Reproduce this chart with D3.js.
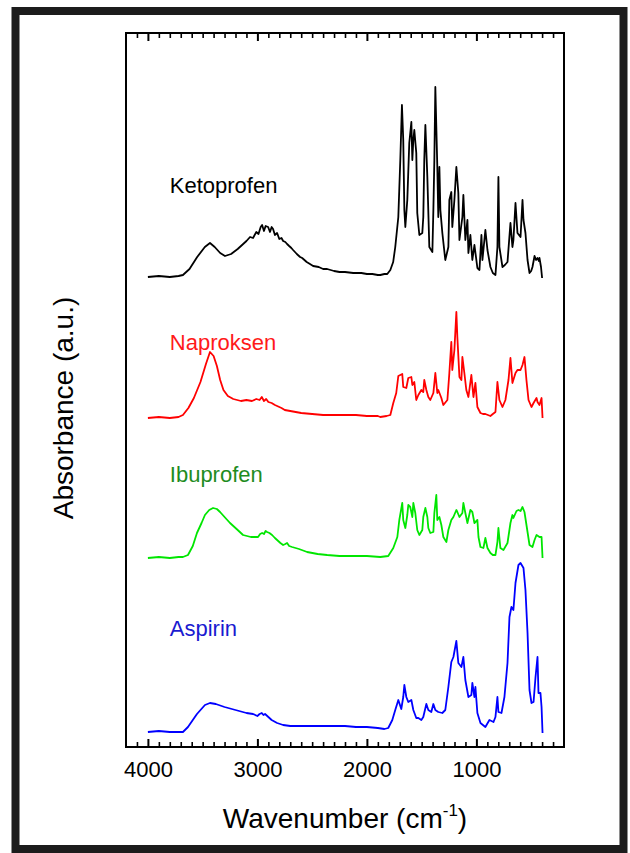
<!DOCTYPE html>
<html>
<head>
<meta charset="utf-8">
<script src="https://cdn.jsdelivr.net/npm/d3@7/dist/d3.min.js"></script>
<style>
  html, body { margin: 0; padding: 0; background: #fff; }
  svg { display: block; font-family: "Liberation Sans", Arial, sans-serif; }
</style>
</head>
<body>
<svg id="chart" width="630" height="853"></svg>
<script>
// FTIR absorbance spectra: [wavenumber (cm-1), absorbance above own baseline (a.u.)]
const ketoprofen = [
  [4000,0.00],[3900,0.01],[3800,0.00],[3720,0.01],[3680,0.02],[3620,0.08],[3550,0.20],[3480,0.30],[3433,0.34],
  [3390,0.30],[3340,0.24],[3296,0.21],[3240,0.23],[3180,0.28],[3130,0.33],[3100,0.36],[3067,0.40],[3040,0.39],
  [3010,0.45],[2990,0.43],[2970,0.50],[2957,0.52],[2940,0.46],[2925,0.51],[2902,0.50],[2885,0.45],[2870,0.50],
  [2857,0.48],[2840,0.42],[2820,0.44],[2800,0.38],[2780,0.39],[2765,0.36],[2745,0.35],[2729,0.33],[2710,0.31],
  [2690,0.29],[2674,0.27],[2640,0.23],[2610,0.20],[2591,0.19],[2550,0.15],[2520,0.13],[2491,0.11],[2440,0.10],
  [2400,0.08],[2363,0.08],[2300,0.06],[2250,0.05],[2200,0.05],[2125,0.04],[2050,0.04],[2000,0.03],[1950,0.03],
  [1900,0.02],[1878,0.02],[1840,0.03],[1814,0.03],[1786,0.07],[1760,0.15],[1741,0.30],[1713,0.60],[1695,1.17],
  [1680,1.72],[1668,1.37],[1658,0.67],[1649,0.50],[1631,0.77],[1613,1.34],[1594,1.55],[1585,1.17],[1576,1.37],
  [1567,1.47],[1549,1.24],[1540,0.64],[1521,0.42],[1494,0.44],[1485,0.60],[1476,1.17],[1466,1.52],[1448,1.00],
  [1430,0.30],[1402,0.25],[1393,0.67],[1384,1.17],[1375,1.90],[1357,1.10],[1348,0.60],[1338,1.10],[1329,0.67],
  [1311,0.44],[1284,0.17],[1256,0.30],[1247,0.77],[1229,0.85],[1220,0.50],[1201,0.77],[1183,1.10],[1165,0.84],
  [1155,0.37],[1128,0.60],[1119,0.82],[1101,0.37],[1082,0.57],[1073,0.24],[1055,0.42],[1037,0.17],[1018,0.32],
  [991,0.09],[972,0.07],[954,0.42],[945,0.17],[918,0.47],[899,0.27],[872,0.10],[850,0.04],[826,0.02],[808,0.30],
  [799,1.00],[790,0.30],[762,0.10],[740,0.12],[716,0.15],[689,0.54],[671,0.30],[662,0.37],[643,0.74],[625,0.44],
  [597,0.40],[579,0.77],[570,0.57],[552,0.44],[533,0.17],[515,0.04],[500,0.06],[488,0.10],[469,0.21],[455,0.17],
  [442,0.19],[430,0.16],[424,0.19],[410,0.10],[400,-0.01]
];

const naproksen = [
  [4000,0.00],[3900,0.01],[3800,0.00],[3720,0.01],[3680,0.03],[3630,0.10],[3580,0.20],[3520,0.36],[3470,0.54],
  [3433,0.66],[3400,0.62],[3370,0.52],[3340,0.38],[3310,0.28],[3270,0.22],[3220,0.19],[3150,0.17],[3100,0.18],
  [3050,0.17],[3010,0.19],[2980,0.18],[2960,0.21],[2940,0.17],[2920,0.19],[2900,0.16],[2870,0.15],[2840,0.13],
  [2820,0.12],[2780,0.10],[2750,0.08],[2700,0.07],[2650,0.06],[2600,0.05],[2500,0.04],[2400,0.03],[2300,0.03],
  [2200,0.03],[2100,0.03],[2000,0.02],[1900,0.02],[1878,0.01],[1820,0.02],[1786,0.03],[1759,0.15],[1732,0.25],
  [1713,0.42],[1695,0.43],[1677,0.44],[1668,0.31],[1640,0.30],[1622,0.40],[1594,0.41],[1585,0.33],[1567,0.36],
  [1549,0.18],[1530,0.23],[1503,0.28],[1485,0.26],[1476,0.38],[1457,0.28],[1439,0.21],[1421,0.18],[1393,0.25],
  [1375,0.45],[1357,0.25],[1348,0.28],[1320,0.20],[1302,0.13],[1265,0.18],[1247,0.45],[1229,0.76],[1220,0.48],
  [1201,0.68],[1183,1.06],[1174,0.81],[1155,0.41],[1137,0.38],[1128,0.61],[1110,0.45],[1092,0.28],[1073,0.21],
  [1046,0.43],[1027,0.21],[1009,0.35],[991,0.11],[963,0.05],[940,0.04],[918,0.04],[895,0.03],[872,0.02],
  [850,0.04],[826,0.06],[808,0.36],[790,0.18],[762,0.11],[735,0.18],[707,0.38],[689,0.60],[671,0.35],[643,0.45],
  [625,0.48],[597,0.48],[579,0.53],[561,0.61],[543,0.38],[524,0.18],[497,0.11],[478,0.15],[451,0.20],[442,0.16],
  [424,0.13],[405,0.20],[396,0.00]
];

const ibuprofen = [
  [4000,0.00],[3900,0.01],[3800,0.00],[3720,0.01],[3680,0.01],[3634,0.03],[3590,0.12],[3552,0.25],[3510,0.35],
  [3479,0.43],[3440,0.48],[3405,0.50],[3370,0.49],[3341,0.46],[3300,0.41],[3250,0.35],[3190,0.29],[3131,0.23],
  [3060,0.21],[3020,0.21],[2994,0.21],[2975,0.24],[2957,0.25],[2940,0.24],[2925,0.27],[2912,0.26],[2890,0.25],
  [2866,0.23],[2840,0.20],[2820,0.18],[2790,0.15],[2765,0.13],[2745,0.14],[2729,0.15],[2710,0.12],[2683,0.11],
  [2620,0.09],[2546,0.06],[2450,0.04],[2363,0.03],[2250,0.02],[2125,0.02],[2000,0.02],[1878,0.01],[1805,0.02],
  [1759,0.10],[1722,0.21],[1704,0.38],[1677,0.55],[1668,0.38],[1649,0.30],[1631,0.43],[1622,0.53],[1604,0.51],
  [1585,0.41],[1576,0.55],[1558,0.45],[1540,0.28],[1521,0.23],[1494,0.28],[1485,0.41],[1466,0.50],[1448,0.41],
  [1439,0.30],[1421,0.25],[1393,0.26],[1384,0.45],[1366,0.63],[1357,0.38],[1338,0.41],[1320,0.33],[1302,0.21],
  [1274,0.16],[1256,0.28],[1229,0.38],[1210,0.41],[1183,0.48],[1174,0.46],[1155,0.41],[1128,0.45],[1119,0.55],
  [1101,0.45],[1082,0.35],[1055,0.48],[1037,0.46],[1018,0.35],[991,0.38],[981,0.21],[963,0.11],[936,0.10],
  [918,0.20],[899,0.10],[872,0.05],[850,0.03],[826,0.03],[808,0.16],[799,0.30],[781,0.10],[753,0.08],[716,0.15],
  [689,0.35],[671,0.43],[662,0.40],[634,0.47],[616,0.48],[597,0.47],[579,0.51],[561,0.46],[533,0.26],[515,0.13],
  [488,0.11],[469,0.18],[451,0.23],[424,0.21],[405,0.21],[396,0.00]
];

const aspirin = [
  [4000,0.00],[3900,0.01],[3800,0.00],[3720,0.00],[3680,0.00],[3634,0.05],[3590,0.12],[3552,0.18],[3479,0.27],
  [3433,0.29],[3380,0.28],[3300,0.25],[3200,0.22],[3100,0.19],[3040,0.18],[3000,0.16],[2980,0.18],[2960,0.19],
  [2945,0.17],[2930,0.18],[2900,0.15],[2870,0.12],[2820,0.09],[2765,0.07],[2700,0.06],[2600,0.06],[2500,0.06],
  [2400,0.06],[2300,0.06],[2200,0.06],[2100,0.05],[2000,0.05],[1900,0.04],[1840,0.03],[1805,0.04],[1768,0.12],
  [1741,0.22],[1713,0.32],[1686,0.23],[1668,0.35],[1658,0.47],[1640,0.35],[1622,0.30],[1594,0.32],[1576,0.22],
  [1549,0.14],[1530,0.14],[1503,0.12],[1485,0.15],[1457,0.28],[1439,0.22],[1412,0.20],[1393,0.28],[1375,0.22],
  [1348,0.20],[1311,0.19],[1284,0.22],[1256,0.45],[1229,0.70],[1210,0.75],[1183,0.91],[1165,0.69],[1137,0.65],
  [1119,0.75],[1101,0.52],[1073,0.35],[1046,0.37],[1037,0.49],[1018,0.35],[1009,0.45],[991,0.19],[963,0.09],
  [918,0.05],[881,0.12],[844,0.10],[826,0.15],[808,0.35],[799,0.20],[771,0.19],[744,0.35],[716,0.69],[698,1.15],
  [680,1.25],[662,1.22],[643,1.49],[616,1.67],[597,1.69],[570,1.64],[552,1.42],[533,0.99],[515,0.42],[497,0.29],
  [478,0.30],[460,0.55],[442,0.75],[433,0.39],[415,0.39],[405,0.25],[396,-0.01]
];

// vertical stacking offset of each trace (a.u.)
const seriesNames   = ["Ketoprofen", "Naproksen", "Ibuprofen", "Aspirin"];
const seriesData    = [ketoprofen, naproksen, ibuprofen, aspirin];
const seriesOffsets = [4.70, 3.29, 1.89, 0.15];
const lineColors    = ["#000000", "#ff0000", "#00e600", "#0000ff"];
const labelColors   = ["#000000", "#ff1a1a", "#1e8c1e", "#1a1ad0"];
// label anchor: wavenumber and absorbance level
const labelPositions = [[3800, 5.54], [3800, 3.97], [3800, 2.65], [3800, 1.11]];

const majorTicks = [4000, 3000, 2000, 1000];
const xDomain = [4200, 200];
const yDomain = [0, 7.14];

const svg = d3.select("#chart");

// outer frame
svg.append("rect")
  .attr("x", 15.5).attr("y", 11).attr("width", 608).attr("height", 838)
  .attr("fill", "none").attr("stroke", "#1c1c1c").attr("stroke-width", 8);

const plot = { left: 126, right: 564, top: 33, bottom: 747 };

const x = d3.scaleLinear().domain(xDomain).range([plot.left, plot.right]);
const y = d3.scaleLinear().domain(yDomain).range([plot.bottom, plot.top]);

// traces
const line = d3.line()
  .x(d => x(d[0]))
  .y(d => d[1]);

seriesData.forEach((data, i) => {
  const pts = data.map(d => [d[0], y(d[1] + seriesOffsets[i])]);
  svg.append("path")
    .attr("d", line(pts))
    .attr("fill", "none")
    .attr("stroke", lineColors[i])
    .attr("stroke-width", 1.8)
    .attr("stroke-linejoin", "round");
});

// axis box
svg.append("rect")
  .attr("x", plot.left).attr("y", plot.top)
  .attr("width", plot.right - plot.left).attr("height", plot.bottom - plot.top)
  .attr("fill", "none").attr("stroke", "#000").attr("stroke-width", 2);

// ticks: minor every 100, major every 1000, pointing inward on bottom and top
const minorTicks = d3.range(4100, 200, -100).filter(v => !majorTicks.includes(v));

const bottomAxis = d3.axisBottom(x).tickValues(majorTicks).tickSize(-8).tickPadding(14).tickFormat(d3.format("d"));
const gB = svg.append("g").attr("transform", `translate(0,${plot.bottom})`).call(bottomAxis);
gB.select(".domain").remove();
gB.selectAll(".tick line").attr("stroke", "#000").attr("stroke-width", 2);
gB.selectAll(".tick text").attr("font-size", 22).attr("fill", "#000")
  .attr("font-family", "Liberation Sans, Arial, sans-serif");

const bottomMinor = d3.axisBottom(x).tickValues(minorTicks).tickSize(-5).tickFormat("");
const gBm = svg.append("g").attr("transform", `translate(0,${plot.bottom})`).call(bottomMinor);
gBm.select(".domain").remove();
gBm.selectAll(".tick line").attr("stroke", "#000").attr("stroke-width", 1.6);

const topAxis = d3.axisTop(x).tickValues(majorTicks).tickSize(-8).tickFormat("");
const gT = svg.append("g").attr("transform", `translate(0,${plot.top})`).call(topAxis);
gT.select(".domain").remove();
gT.selectAll(".tick line").attr("stroke", "#000").attr("stroke-width", 2);

const topMinor = d3.axisTop(x).tickValues(minorTicks).tickSize(-5).tickFormat("");
const gTm = svg.append("g").attr("transform", `translate(0,${plot.top})`).call(topMinor);
gTm.select(".domain").remove();
gTm.selectAll(".tick line").attr("stroke", "#000").attr("stroke-width", 1.6);

// axis titles
const xTitle = svg.append("text")
  .attr("x", (plot.left + plot.right) / 2).attr("y", 828)
  .attr("text-anchor", "middle").attr("font-size", 28).attr("fill", "#000");
xTitle.append("tspan").text("Wavenumber (cm");
xTitle.append("tspan").attr("font-size", 17).attr("dy", -12).text("-1");
xTitle.append("tspan").attr("dy", 12).text(")");

svg.append("text")
  .attr("transform", "translate(73,408) rotate(-90)")
  .attr("text-anchor", "middle").attr("font-size", 28).attr("fill", "#000")
  .text("Absorbance (a.u.)");

// trace labels
seriesNames.forEach((name, i) => {
  svg.append("text")
    .attr("x", x(labelPositions[i][0]))
    .attr("y", y(labelPositions[i][1]))
    .attr("font-size", 22)
    .attr("fill", labelColors[i])
    .text(name);
});
</script>
</body>
</html>
